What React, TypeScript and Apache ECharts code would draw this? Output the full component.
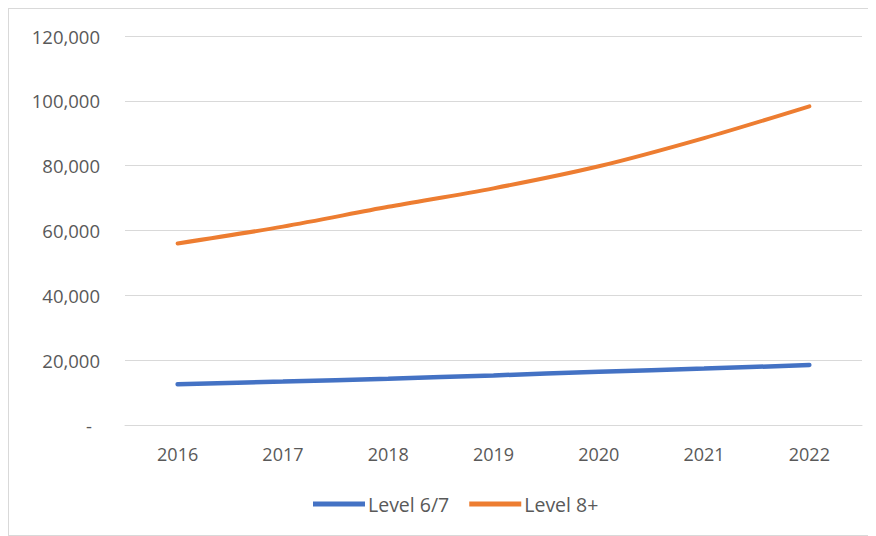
import React, { useEffect, useRef } from "react";
import * as echarts from "echarts";

const years = ["2016", "2017", "2018", "2019", "2020", "2021", "2022"];
const level67 = [12600, 13400, 14300, 15300, 16400, 17400, 18500];
const level8 = [56000, 61200, 67300, 73000, 79800, 88500, 98300];
const seriesNames = ["Level 6/7", "Level 8+"];
const colors = ["#4472C4", "#ED7D31"];

export default function App() {
  const ref = useRef<HTMLDivElement>(null);
  useEffect(() => {
    if (!ref.current) return;
    const chart = echarts.init(ref.current, undefined, { renderer: "svg" });
    const font = "'Open Sans', sans-serif";
    chart.setOption({
      animation: false,
      backgroundColor: "#ffffff",
      color: colors,
      grid: { left: 116, right: 13, top: 27, bottom: 110, containLabel: false },
      legend: {
        top: 480,
        left: 299,
        icon: "rect",
        itemWidth: 52,
        itemHeight: 5,
        itemGap: 20,
        textStyle: { color: "#595959", fontSize: 19.5, fontFamily: font, padding: [0, 0, 0, -2] },
        data: seriesNames,
      },
      xAxis: {
        type: "category",
        data: years,
        boundaryGap: true,
        axisLine: { show: true, lineStyle: { color: "#d9d9d9", width: 1 } },
        axisTick: { show: false },
        axisLabel: { color: "#595959", fontSize: 18, fontFamily: font, margin: 20 },
      },
      yAxis: {
        type: "value",
        min: 0,
        max: 120000,
        interval: 20000,
        axisLine: { show: false },
        axisTick: { show: false },
        splitLine: { lineStyle: { color: "#d9d9d9", width: 1 } },
        axisLabel: {
          color: "#595959",
          fontSize: 18.5,
          fontFamily: font,
          margin: 25,
          formatter: (v: number) =>
            v === 0 ? "{d|-}" : v.toLocaleString("en-US"),
          rich: { d: { padding: [0, 8, 0, 0], fontSize: 18.5, color: "#595959", fontFamily: font } },
        },
      },
      series: [
        {
          name: seriesNames[0],
          type: "line",
          data: level67,
          smooth: 0.3,
          symbol: "none",
          lineStyle: { width: 4.5, color: colors[0], cap: "round" },
        },
        {
          name: seriesNames[1],
          type: "line",
          data: level8,
          smooth: 0.3,
          symbol: "none",
          lineStyle: { width: 4, color: colors[1], cap: "round" },
        },
      ],
    });
    return () => chart.dispose();
  }, []);
  return (
    <div
      ref={ref}
      style={{ width: 866, height: 526, border: "1px solid #d9d9d9" }}
    />
  );
}
